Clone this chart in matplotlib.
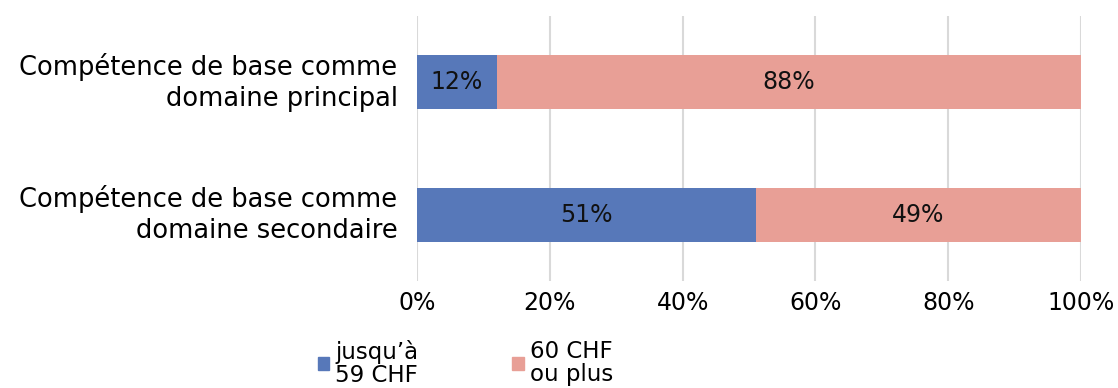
import matplotlib
matplotlib.use("Agg")
import matplotlib.pyplot as plt
from matplotlib.patches import Patch

categories = ["Compétence de base comme\ndomaine principal",
              "Compétence de base comme\ndomaine secondaire"]
series_names = ["jusqu’à\n59 CHF", "60 CHF\nou plus"]
low = [12, 51]
high = [88, 49]
colors = ["#5778B9", "#E89F96"]
ticks = [0, 20, 40, 60, 80, 100]

plt.rcParams['font.family'] = ['DejaVu Sans']

fig = plt.figure(figsize=(11.18, 3.88), dpi=100)
W, H = 1118, 388
ax = fig.add_axes([417 / W, 1 - 281 / H, (1081 - 417) / W, (281 - 16) / H])

y = [0, 1]
bh = 0.41
ax.barh(y, low, height=bh, color=colors[0], zorder=3)
ax.barh(y, high, left=low, height=bh, color=colors[1], zorder=3)
for i in range(2):
    ax.text(low[i] / 2, y[i], f"{low[i]}%", ha="center", va="center", fontsize=17, color="#111111", zorder=4)
    ax.text(low[i] + high[i] / 2, y[i], f"{high[i]}%", ha="center", va="center", fontsize=17, color="#111111", zorder=4)

ax.set_xlim(0, 100)
ax.set_ylim(1.5, -0.5)
ax.set_yticks(y)
ax.set_yticklabels(categories, fontsize=18.5, ha="right", linespacing=1.25)
for lbl in ax.get_yticklabels():
    lbl.set_va("center")
ax.set_xticks(ticks)
ax.set_xticklabels([f"{t}%" for t in ticks], fontsize=17)
ax.tick_params(axis="both", length=0)
ax.tick_params(axis="x", pad=7)
ax.tick_params(axis="y", pad=14)
for s in ax.spines.values():
    s.set_visible(False)
ax.grid(axis="x", color="#D9D9D9", linewidth=1.5, zorder=0)
ax.set_axisbelow(True)

handles = [Patch(color=c) for c in colors]
leg = fig.legend(handles, series_names, loc="center left", bbox_to_anchor=(302 / W, 1 - 363 / H),
                 ncol=2, frameon=False, fontsize=16.5, handlelength=0.5, handleheight=0.5,
                 handletextpad=0.25, columnspacing=4.1, labelspacing=0.2, borderpad=0.2)
for t in leg.get_texts():
    t.set_linespacing(1.0)

fig.savefig("out.png", dpi=100)
